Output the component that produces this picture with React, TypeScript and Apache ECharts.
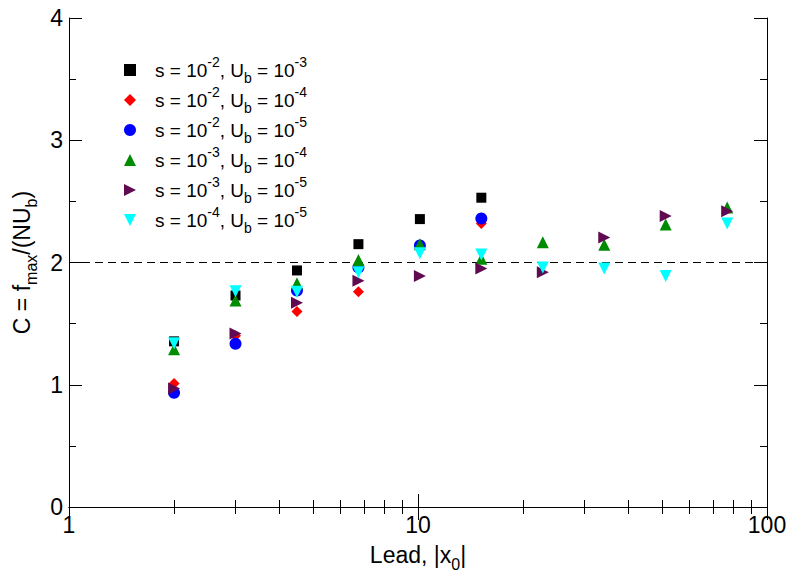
import React, { useEffect, useRef } from "react";
import * as echarts from "echarts";

// x positions (lead |x0|)
const xLeads = [2, 3, 4.5, 6.75, 10.125, 15.1875, 22.78, 34.17, 51.26, 76.89];
// series labels
const seriesNames = [
  "s = 10^-2, U_b = 10^-3",
  "s = 10^-2, U_b = 10^-4",
  "s = 10^-2, U_b = 10^-5",
  "s = 10^-3, U_b = 10^-4",
  "s = 10^-3, U_b = 10^-5",
  "s = 10^-4, U_b = 10^-5",
];
const sExponents = ["-2", "-2", "-2", "-3", "-3", "-4"];
const ubExponents = ["-3", "-4", "-5", "-4", "-5", "-5"];
// values of C
const blackVals = [1.355, 1.73, 1.935, 2.15, 2.355, 2.53];
const redVals = [1.01, 1.4, 1.6, 1.76, 2.14, 2.32];
const blueVals = [0.935, 1.335, 1.77, 1.96, 2.14, 2.36];
const greenVals = [1.29, 1.69, 1.83, 2.02, 2.15, 2.03, 2.165, 2.145, 2.31, 2.45];
const purpleVals = [0.97, 1.42, 1.67, 1.85, 1.89, 1.95, 1.92, 2.205, 2.38, 2.42];
const cyanVals = [1.34, 1.765, 1.76, 1.92, 2.075, 2.065, 1.96, 1.95, 1.89, 2.32];
const yTickValues = [0, 1, 2, 3, 4];
const xTickLabels = [1, 10, 100];
const referenceC = 2;

const FONT = "'Liberation Sans', Arial, Helvetica, sans-serif";

const seriesValues = [blackVals, redVals, blueVals, greenVals, purpleVals, cyanVals];
const seriesColors = ["#000000", "#ff0000", "#0000ff", "#008b00", "#600a52", "#00ffff"];
const seriesSymbols = ["rect", "diamond", "circle", "triangle", "triangle", "triangle"];
const seriesRotate = [0, 0, 0, 0, -90, 180];
const seriesSizes = [10, 11, 12, 12, 12, 12];
const legendIcons = [
  "rect",
  "diamond",
  "circle",
  "triangle",
  "path://M0,0L10,5L0,10Z",
  "path://M0,0L10,0L5,10Z",
];

export default function App() {
  const ref = useRef<HTMLDivElement>(null);
  useEffect(() => {
    document.body.style.margin = "0";
    const chart = echarts.init(ref.current!, undefined, { renderer: "svg" });
    const axisLine = { show: true, lineStyle: { color: "#000", width: 1 } };
    const series: any[] = seriesValues.map((vals, si) => ({
      type: "scatter",
      name: seriesNames[si],
      data: vals.map((v, i) => [xLeads[i], v]),
      symbol: seriesSymbols[si],
      symbolSize: seriesSizes[si],
      symbolRotate: seriesRotate[si],
      itemStyle: { color: seriesColors[si], opacity: 1 },
      z: 3 + si,
      silent: true,
    }));
    series[0].markLine = {
      silent: true,
      symbol: "none",
      label: { show: false },
      lineStyle: { color: "#000", width: 1, type: [8, 5] },
      data: [{ yAxis: referenceC }],
      z: 1,
    };
    const xAxisBase = {
      type: "log",
      logBase: 10,
      min: 1,
      max: 100,
      axisLine,
      splitLine: { show: false },
      axisTick: { show: true, inside: true, length: 13, lineStyle: { color: "#000" } },
      minorTick: { show: true, splitNumber: 9, length: 7, lineStyle: { color: "#000" } },
    };
    const yAxisBase = {
      type: "value",
      min: 0,
      max: 4,
      interval: 1,
      axisLine,
      splitLine: { show: false },
      axisTick: { show: true, inside: true, length: 13, lineStyle: { color: "#000" } },
      minorTick: { show: true, splitNumber: 2, length: 7, lineStyle: { color: "#000" } },
    };
    const nameRich = {
      t: { fontSize: 23, fontFamily: FONT, color: "#000", lineHeight: 34 },
      sub: { fontSize: 16, fontFamily: FONT, color: "#000", lineHeight: 14, verticalAlign: "bottom" },
    };
    chart.setOption({
      animation: false,
      backgroundColor: "#fff",
      textStyle: { fontFamily: FONT },
      grid: { left: 69, right: 33, top: 18, bottom: 73, containLabel: false },
      legend: {
        orient: "vertical",
        left: 119,
        top: 50,
        itemWidth: 12,
        itemHeight: 12,
        itemGap: 0,
        selectedMode: false,
        data: seriesNames.map((n, i) => ({ name: n, icon: legendIcons[i] })),
        formatter: (name: string) => {
          const i = seriesNames.indexOf(name);
          return `{gap|}{t|s = 10}{sup|${sExponents[i]}}{t|, U}{sub|b}{t| = 10}{sup|${ubExponents[i]}}`;
        },
        textStyle: {
          rich: {
            gap: { width: 14 },
            t: { fontSize: 19, fontFamily: FONT, color: "#000", lineHeight: 30 },
            sup: { fontSize: 14, fontFamily: FONT, color: "#000", lineHeight: 22, verticalAlign: "top" },
            sub: { fontSize: 14, fontFamily: FONT, color: "#000", lineHeight: 10, verticalAlign: "bottom" },
          },
        },
      },
      xAxis: [
        {
          ...xAxisBase,
          position: "bottom",
          axisLabel: {
            color: "#000",
            fontSize: 23,
            fontFamily: FONT,
            margin: 6,
            formatter: (v: number) => (xTickLabels.includes(Math.round(v)) ? String(Math.round(v)) : ""),
          },
          name: "{t|Lead, |x}{sub|0}{t||}",
          nameLocation: "middle",
          nameGap: 31,
          nameTextStyle: { color: "#000", fontSize: 23, fontFamily: FONT, rich: nameRich },
        },
        { ...xAxisBase, position: "top", axisLabel: { show: false } },
      ],
      yAxis: [
        {
          ...yAxisBase,
          position: "left",
          axisLabel: {
            color: "#000",
            fontSize: 23,
            fontFamily: FONT,
            margin: 6,
            formatter: (v: number) => (yTickValues.includes(v) ? String(v) : ""),
          },
          name: "{t|C = f}{sub|max}{t|/(NU}{sub|b}{t|)}",
          nameLocation: "middle",
          nameRotate: 90,
          nameGap: 25,
          nameTextStyle: { color: "#000", fontSize: 23, fontFamily: FONT, rich: nameRich },
        },
        { ...yAxisBase, position: "right", axisLabel: { show: false } },
      ],
      series,
    });
    return () => chart.dispose();
  }, []);
  return (
    <div
      ref={ref}
      style={{ position: "fixed", left: 0, top: 0, width: 800, height: 580, background: "#fff" }}
    />
  );
}
